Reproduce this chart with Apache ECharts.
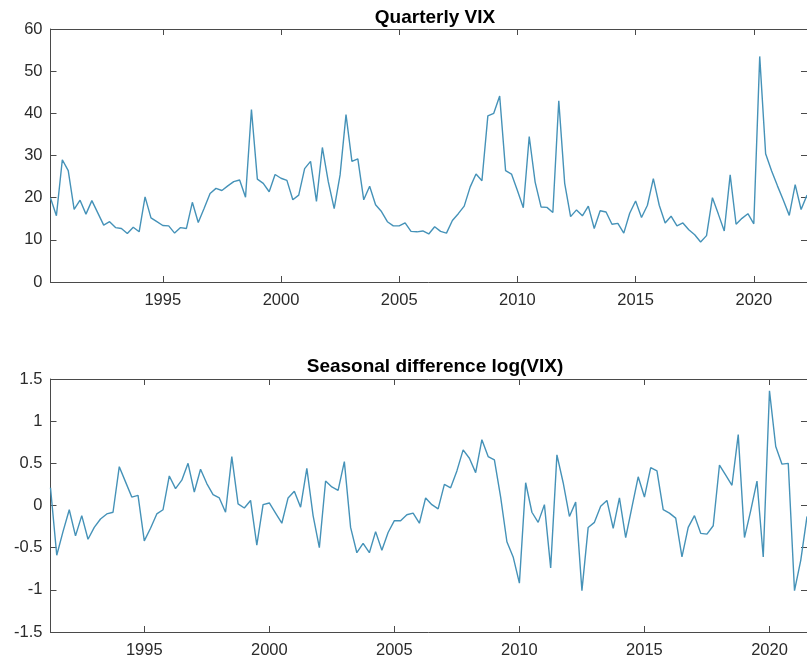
<!DOCTYPE html>
<html>
<head>
<meta charset="utf-8">
<title>Quarterly VIX</title>
<script src="https://cdn.jsdelivr.net/npm/echarts@6/dist/echarts.min.js"></script>
<style>
  html, body { margin: 0; padding: 0; background: #ffffff; }
  #chart { width: 807px; height: 659px; }
</style>
</head>
<body>
<div id="chart"></div>
<script>
// VIX closing level at each quarter end, 1990 Q1 .. 2022 Q1
const vixValues = [
  19.9, 15.7, 29.0, 26.4,   // 1990
  17.2, 19.4, 16.1, 19.3,   // 1991
  16.4, 13.5, 14.3, 12.9,   // 1992
  12.7, 11.5, 13.0, 11.9,   // 1993
  20.2, 15.2, 14.3, 13.4,   // 1994
  13.3, 11.6, 12.9, 12.7,   // 1995
  18.9, 14.1, 17.5, 21.0,   // 1996
  22.2, 21.7, 22.8, 23.8,   // 1997
  24.2, 20.1, 40.9, 24.4,   // 1998
  23.4, 21.4, 25.5, 24.6,   // 1999
  24.1, 19.5, 20.6, 26.9,   // 2000
  28.6, 19.1, 31.9, 23.8,   // 2001
  17.4, 25.4, 39.7, 28.6,   // 2002
  29.2, 19.5, 22.7, 18.3,   // 2003
  16.7, 14.3, 13.3, 13.3,   // 2004
  14.0, 12.0, 11.9, 12.1,   // 2005
  11.4, 13.1, 12.0, 11.6,   // 2006
  14.6, 16.2, 18.0, 22.5,   // 2007
  25.6, 24.0, 39.4, 40.0,   // 2008
  44.1, 26.4, 25.6, 21.7,   // 2009
  17.6, 34.5, 23.7, 17.8,   // 2010
  17.7, 16.5, 43.0, 23.4,   // 2011
  15.5, 17.1, 15.7, 18.0,   // 2012
  12.7, 16.9, 16.6, 13.7,   // 2013
  13.9, 11.6, 16.3, 19.2,   // 2014
  15.3, 18.2, 24.5, 18.2,   // 2015
  14.0, 15.6, 13.3, 14.0,   // 2016
  12.4, 11.2, 9.5, 11.0,    // 2017
  20.0, 16.1, 12.1, 25.4,   // 2018
  13.7, 15.1, 16.2, 13.8,   // 2019
  53.5, 30.4, 26.4, 22.8,   // 2020
  19.4, 15.8, 23.1, 17.2,   // 2021
  20.6                      // 2022
];

// Year-over-year change of log(VIX), one value per quarter
const diffValues = [
  0.21, -0.59, -0.31,                 // 1991
  -0.05, -0.36, -0.12, -0.40,         // 1992
  -0.26, -0.16, -0.10, -0.08,         // 1993
  0.46, 0.28, 0.10, 0.12,             // 1994
  -0.42, -0.27, -0.10, -0.05,         // 1995
  0.35, 0.20, 0.30, 0.50,             // 1996
  0.16, 0.43, 0.26, 0.13,             // 1997
  0.09, -0.08, 0.58, 0.02,            // 1998
  -0.03, 0.06, -0.47, 0.01,           // 1999
  0.03, -0.09, -0.21, 0.09,           // 2000
  0.17, -0.02, 0.44, -0.12,           // 2001
  -0.50, 0.29, 0.22, 0.18,            // 2002
  0.52, -0.26, -0.56, -0.45,          // 2003
  -0.56, -0.31, -0.53, -0.32,         // 2004
  -0.18, -0.18, -0.11, -0.09,         // 2005
  -0.21, 0.09, 0.01, -0.04,           // 2006
  0.25, 0.21, 0.41, 0.66,             // 2007
  0.56, 0.39, 0.78, 0.58,             // 2008
  0.54, 0.10, -0.43, -0.61,           // 2009
  -0.92, 0.27, -0.08, -0.20,          // 2010
  0.01, -0.74, 0.60, 0.27,            // 2011
  -0.13, 0.04, -1.01, -0.26,          // 2012
  -0.20, -0.01, 0.06, -0.27,          // 2013
  0.09, -0.38, -0.02, 0.34,           // 2014
  0.10, 0.45, 0.41, -0.05,            // 2015
  -0.09, -0.15, -0.61, -0.26,         // 2016
  -0.12, -0.33, -0.34, -0.24,         // 2017
  0.48, 0.36, 0.24, 0.84,             // 2018
  -0.38, -0.06, 0.29, -0.61,          // 2019
  1.36, 0.70, 0.49, 0.50,             // 2020
  -1.01, -0.65, -0.13                 // 2021
];

const yearTicks = [1995, 2000, 2005, 2010, 2015, 2020];
const vixFirstQuarter = 1990.25;
const vixLastQuarter = 2022.25;
const diffFirstQuarter = 1991.25;
const diffLastQuarter = 2021.5;
const quarterStep = 0.25;

const vixTicks = { min: 0, max: 60, interval: 10 };
const diffTicks = { min: -1.5, max: 1.5, interval: 0.5 };

const FONT = "'Liberation Sans', Arial, Helvetica, sans-serif";
const AXIS_COLOR = '#4a4a4a';
const TEXT_COLOR = '#2b2b2b';
const LINE_COLOR = '#4592b8';

function toPoints(start, values) {
  return values.map((v, i) => [start + i * quarterStep, v]);
}

function xAxisPair(gridIndex, min, max) {
  const common = {
    type: 'value', gridIndex, min, max,
    splitLine: { show: false },
    axisLine: { show: true, onZero: false, lineStyle: { color: AXIS_COLOR, width: 1 } },
    axisTick: { show: true, inside: true, length: 6, customValues: yearTicks,
                lineStyle: { color: AXIS_COLOR, width: 1 } }
  };
  return [
    Object.assign({}, common, {
      position: 'bottom',
      axisLabel: { customValues: yearTicks, formatter: v => String(v), margin: 10,
                   fontSize: 16.5, color: TEXT_COLOR, fontFamily: FONT }
    }),
    Object.assign({}, common, { position: 'top', axisLabel: { show: false } })
  ];
}

function yAxisPair(gridIndex, ticks) {
  const common = {
    type: 'value', gridIndex, min: ticks.min, max: ticks.max, interval: ticks.interval,
    splitLine: { show: false },
    axisLine: { show: true, onZero: false, lineStyle: { color: AXIS_COLOR, width: 1 } },
    axisTick: { show: true, inside: true, length: 6, lineStyle: { color: AXIS_COLOR, width: 1 } }
  };
  return [
    Object.assign({}, common, {
      position: 'left',
      axisLabel: { margin: 8, fontSize: 16.5, color: TEXT_COLOR, fontFamily: FONT }
    }),
    Object.assign({}, common, { position: 'right', axisLabel: { show: false } })
  ];
}

const chart = echarts.init(document.getElementById('chart'), null, { renderer: 'canvas' });

chart.setOption({
  animation: false,
  backgroundColor: '#ffffff',
  title: [
    { text: 'Quarterly VIX', left: 430, top: 3, textAlign: 'center',
      textStyle: { fontFamily: FONT, fontSize: 19, fontWeight: 'bold', color: '#000000' } },
    { text: 'Seasonal difference log(VIX)', left: 430, top: 352, textAlign: 'center',
      textStyle: { fontFamily: FONT, fontSize: 19, fontWeight: 'bold', color: '#000000' } }
  ],
  grid: [
    { left: 50.5, width: 757, top: 29, height: 253 },
    { left: 50.5, width: 757, top: 379, height: 253 }
  ],
  xAxis: [
    ...xAxisPair(0, vixFirstQuarter, vixLastQuarter),
    ...xAxisPair(1, diffFirstQuarter, diffLastQuarter)
  ],
  yAxis: [
    ...yAxisPair(0, vixTicks),
    ...yAxisPair(1, diffTicks)
  ],
  series: [
    {
      name: 'VIX', type: 'line', xAxisIndex: 0, yAxisIndex: 0,
      data: toPoints(vixFirstQuarter, vixValues),
      showSymbol: false, symbol: 'none',
      lineStyle: { color: LINE_COLOR, width: 1.4 }
    },
    {
      name: 'Seasonal difference', type: 'line', xAxisIndex: 2, yAxisIndex: 2,
      data: toPoints(diffFirstQuarter, diffValues),
      showSymbol: false, symbol: 'none',
      lineStyle: { color: LINE_COLOR, width: 1.4 }
    }
  ]
});
</script>
</body>
</html>
